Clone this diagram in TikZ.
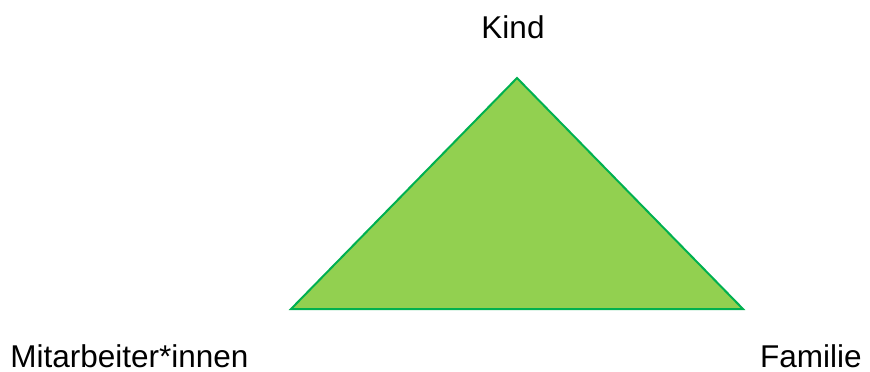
\documentclass[tikz,border=0pt]{standalone}
\usepackage{fontspec}
\setmainfont{Liberation Sans}
\definecolor{trifill}{HTML}{92D050}
\definecolor{triline}{HTML}{00B050}
\begin{document}
\begin{tikzpicture}[x=0.5pt,y=-0.5pt,
  lbl/.style={inner sep=0pt,text depth=0pt,font=\fontsize{15.75pt}{18pt}\selectfont}]
\useasboundingbox (0,0) rectangle (870,371);
\coordinate (top) at (517,78);
\coordinate (bl) at (291,309);
\coordinate (br) at (743,309);
\filldraw[fill=trifill,draw=triline,line width=1pt,line join=miter] (top) -- (br) -- (bl) -- cycle;
\node[lbl,anchor=base] (kind) at (513,38) {Kind};
\node[lbl,anchor=base west] (mit) at (10,367.5) {Mitarbeiter*innen};
\node[lbl,anchor=base east] (fam) at (862,367.5) {Familie};
\end{tikzpicture}
\end{document}
